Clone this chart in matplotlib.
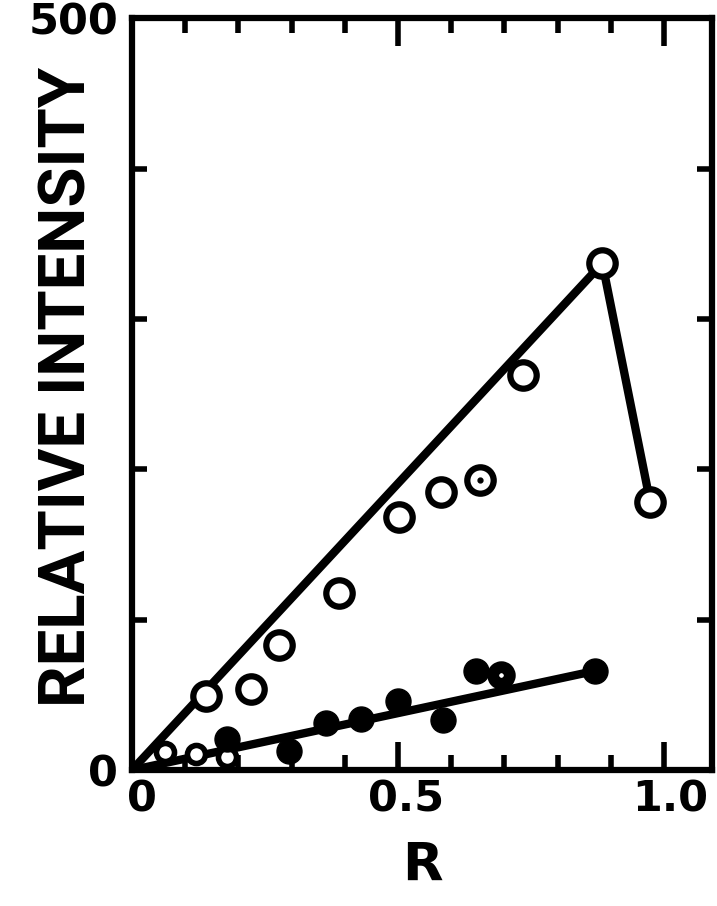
import matplotlib
matplotlib.use("Agg")
import matplotlib.pyplot as plt
from matplotlib.ticker import FixedLocator, FixedFormatter
from matplotlib.transforms import ScaledTranslation

# open circles (upper curve)
open_r = [0.14, 0.224, 0.277, 0.389, 0.501, 0.581, 0.735, 0.884, 0.974]
open_i = [49, 54, 83, 118, 168, 185, 263, 337, 178]

# stray point with centre dot
dot_r = [0.654]
dot_i = [193]

# small open marks near the origin
low_open_r = [0.062, 0.121, 0.178]
low_open_i = [12, 11, 9]

# filled circles (lower curve)
filled_r = [0.178, 0.295, 0.364, 0.43, 0.50, 0.585, 0.647, 0.871]
filled_i = [21, 13, 31, 34, 46, 33, 66, 66]

# half filled point
half_r = [0.693]
half_i = [63]

# drawn trend lines
upper_r = [0.0, 0.884, 0.974]
upper_i = [0, 337, 178]
lower_r = [0.0, 0.871]
lower_i = [0, 66]

x_major = [0.0, 0.5, 1.0]
x_major_labels = ["0", "0.5", "1.0"]
x_minor = [0.1, 0.2, 0.3, 0.4, 0.6, 0.7, 0.8, 0.9]
y_ticks = [0, 100, 200, 300, 400, 500]
y_tick_labels = ["0", "", "", "", "", "500"]

fig = plt.figure(figsize=(7.17, 9.06), dpi=100)
ax = fig.add_axes([0.184, 0.150, 0.809, 0.830])

lw = 6.0
ax.plot(upper_r, upper_i, color="black", lw=lw, solid_capstyle="round", zorder=2)
ax.plot(lower_r, lower_i, color="black", lw=lw, solid_capstyle="round", zorder=2)

ax.plot(open_r, open_i, "o", ms=19, mfc="white", mec="black", mew=4.5, zorder=3)
ax.plot(dot_r, dot_i, "o", ms=19, mfc="white", mec="black", mew=4.5, zorder=3)
ax.plot(dot_r, dot_i, "o", ms=3.5, color="black", zorder=4)
ax.plot(low_open_r, low_open_i, "o", ms=13, mfc="white", mec="black", mew=4, zorder=3)
ax.plot(filled_r, filled_i, "o", ms=18, color="black", zorder=3)
ax.plot(half_r, half_i, "o", ms=12, mfc="white", mec="black", mew=8.5, zorder=3)

ax.set_xlim(0, 1.09)
ax.set_ylim(0, 500)

for s in ax.spines.values():
    s.set_linewidth(4.5)

ax.xaxis.set_major_locator(FixedLocator(x_major))
ax.xaxis.set_major_formatter(FixedFormatter(x_major_labels))
ax.xaxis.set_minor_locator(FixedLocator(x_minor))
ax.yaxis.set_major_locator(FixedLocator(y_ticks))
ax.yaxis.set_major_formatter(FixedFormatter(y_tick_labels))

ax.tick_params(axis="x", which="major", direction="in", length=20, width=4,
               top=True, bottom=True, pad=6)
ax.tick_params(axis="x", which="minor", direction="in", length=11, width=4,
               top=True, bottom=True)
ax.tick_params(axis="y", which="major", direction="in", length=11, width=4,
               left=True, right=True, pad=10)
for lab in ax.get_xticklabels() + ax.get_yticklabels():
    lab.set_fontfamily("DejaVu Sans")
    lab.set_fontweight("bold")
    lab.set_fontsize(31)

# hand-lettered numbers sit a little right of their ticks
x_shift = [10, 8, 6]
for lab, dx in zip(ax.get_xticklabels(), x_shift):
    lab.set_transform(lab.get_transform() + ScaledTranslation(dx / 100, 0, fig.dpi_scale_trans))

ax.set_xlabel("R", fontsize=38, fontweight="bold", labelpad=14)
ax.set_ylabel("RELATIVE INTENSITY", fontsize=47, fontweight="bold",
              family=["Roboto", "DejaVu Sans"])
ax.yaxis.set_label_coords(-0.058, 0.51)

fig.savefig("out.png", dpi=100, facecolor="white")
